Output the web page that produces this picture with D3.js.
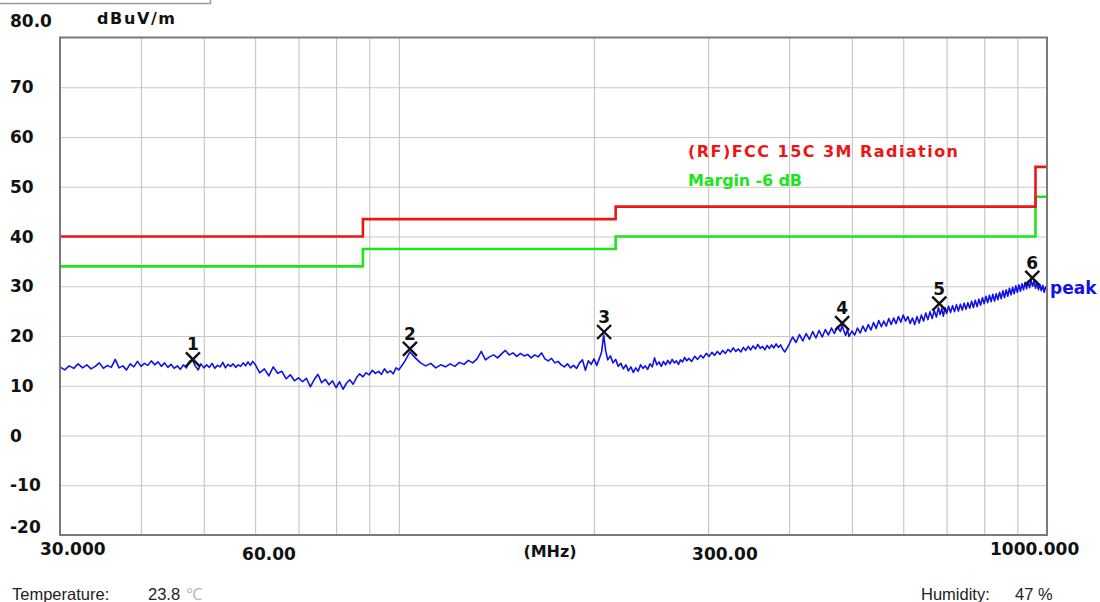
<!DOCTYPE html>
<html>
<head>
<meta charset="utf-8">
<script src="https://cdn.jsdelivr.net/npm/d3@7"></script>
<style>
  body { margin: 0; background: #ffffff; }
  svg { display: block; }
</style>
</head>
<body>
<svg id="chart" width="1100" height="602"></svg>
<script>
/***************************  Data ***************************/
var yTicks = [80, 70, 60, 50, 40, 30, 20, 10, 0, -10, -20];
var yTickText = ["80.0", "70", "60", "50", "40", "30", "20", "10", "0", "-10", "-20"];
var xGridFreqs = [40, 50, 60, 70, 80, 90, 100, 200, 300, 400, 500, 600, 700, 800, 900];
var xTickFreqs = [30, 60, 300, 1000];
var xTickText = ["30.000", "60.00", "300.00", "1000.000"];

// FCC 15C 3M limit (step after each frequency) and the -6 dB margin
var limitFreqs = [30, 88, 216, 960, 1000];
var limitLevels = [40, 43.5, 46, 54, 54];
var marginLevels = [34, 37.5, 40, 48, 48];

// peak trace, [MHz, dBuV/m]
var traceLow = [
 [30,13.8],[30.5,13.2],[31,14.0],[31.5,13.5],[32,14.4],[32.5,13.6],[33,14.2],[33.5,13.4],[34,13.9],[34.5,14.6],
 [35,13.5],[35.5,14.1],[36,13.7],[36.5,15.3],[37,13.6],[37.5,14.0],[38,13.2],[38.5,14.4],[39,13.8],[39.5,14.9],
 [40,13.9],[40.5,14.5],[41,14.1],[41.5,15.0],[42,14.2],[42.5,14.8],[43,13.9],[43.5,14.6],[44,13.7],[44.5,14.3],
 [45,13.5],[45.5,14.0],[46,13.3],[46.5,14.2],[47,13.6],[47.5,14.9],[48,15.3],[48.5,14.0],[49,13.2],[49.5,14.4],
 [50,13.6],[50.5,14.2],[51,13.7],[51.5,14.5],[52,13.5],[52.5,14.1],[53,13.8],[53.5,14.7],[54,13.6],[54.5,14.3],
 [55,13.9],[55.5,14.4],[56,13.7],[56.5,14.2],[57,13.9],[57.5,14.6],[58,14.0],[58.5,14.8],[59,14.1],[59.5,14.9],
 [60,14.3],[61,12.6],[62,13.4],[63,12.0],[64,13.8],[65,12.5],[66,12.9],[67,11.4],[68,12.2],[69,11.0],
 [70,11.6],[71,10.8],[72,11.5],[73,9.8],[74,11.2],[75,12.3],[76,10.6],[77,11.3],[78,10.2],[79,11.0],
 [80,9.6],[81,10.8],[82,9.3],[83,10.5],[84,11.2],[85,10.3],[86,11.6],[87,12.4],[88,11.8],[89,12.6],
 [90,12.2],[91,13.1],[92,12.5],[93,12.9],[94,12.3],[95,13.4],[96,12.6],[97,13.0],[98,12.4],[99,13.6]
];
var traceMid = [
 [100,13.2],[102,14.8],[104,16.8],[106,15.6],[108,14.6],[110,14.0],[112,14.5],[114,13.6],[116,14.2],[118,13.8],
 [120,14.4],[122,13.9],[124,14.7],[126,14.3],[128,15.1],[130,14.6],[132,15.4],[134,16.9],[136,15.2],[138,15.8],
 [140,16.2],[142,15.6],[144,16.4],[146,17.1],[148,16.2],[150,16.6],[152,15.9],[154,16.5],[156,16.0],[158,16.3],
 [160,15.6],[162,16.2],[164,15.8],[166,16.6],[168,15.4],[170,15.0],[172,15.5],[174,14.6],[176,14.9],[178,14.2],
 [180,13.8],[182,14.4],[184,13.6],[186,14.1],[188,13.5],[190,14.6],[192,15.2],[194,13.1],[196,15.0],[198,14.3],
 [200,15.4],[202,14.1],[204,15.6],[205.5,16.8],[207,20.2],[208.5,17.0],[210,15.2],[212,16.0],[214,14.6],[216,15.3],
 [218,13.9],[220,14.5],[222,13.4],[224,14.2],[226,13.0],[228,13.8],[230,12.7],[232,13.6],[234,12.9],[236,14.2],
 [238,13.5],[240,14.0],[242,13.3],[244,14.4],[246,13.8],[248,15.6],[250,14.2],[252,14.8],[254,13.9],[256,14.9],
 [258,14.2],[260,15.1],[262,14.4],[264,15.3],[266,14.6],[268,15.0],[270,14.3],[272,15.2],[274,14.8],[276,15.7],
 [278,15.0],[280,15.5],[283,14.9],[286,15.9],[289,15.3],[292,16.1],[295,15.6],[298,16.5],[301,15.9],[304,16.7],
 [307,16.1],[310,16.9],[313,16.3],[316,17.1],[319,16.5],[322,17.3],[325,16.8],[328,17.6],[331,16.9],[334,17.4],
 [337,16.8],[340,17.7],[343,17.1],[346,17.9],[349,17.2],[352,18.0],[355,17.4],[358,18.3],[361,17.5],[364,17.9],
 [367,17.2],[370,18.1],[373,17.5],[376,18.2],[379,17.6],[382,18.4],[385,17.7],[388,18.2],[391,17.4],[394,16.8],
 [397,17.5]
];
var traceHigh = [
 [400,18.3],[405,19.8],[410,18.7],[415,20.3],[420,19.0],[425,20.5],[430,19.3],[435,20.9],[440,19.6],[445,21.1],
 [450,19.8],[455,21.3],[460,20.2],[465,21.6],[470,20.5],[475,21.9],[480,20.9],[483,22.1],[486,21.0],[489,20.1],
 [492,21.2],[495,19.9],[500,21.0],[505,20.2],[510,21.6],[515,20.6],[520,22.0],[525,20.9],[530,22.3],[535,21.2],
 [540,22.7],[545,21.5],[550,23.1],[555,21.9],[560,23.0],[565,22.0],[570,23.5],[575,22.3],[580,23.6],[585,22.5],
 [590,23.9],[595,22.8],[600,24.2],[605,23.0],[610,23.9],[615,22.5],[620,23.6],[625,22.3],[630,23.9],[635,22.6],
 [640,24.2],[645,23.0],[650,24.6],[655,23.3],[660,24.9],[665,23.5],[670,25.1],[675,23.8],[680,25.7],[684,24.3],
 [688,25.5],[692,24.0],[696,25.7],[700,24.5],[705,26.0],[710,24.7],[715,26.1],[720,24.9],[725,26.3],[730,25.0],
 [735,26.4],[740,25.2],[745,26.6],[750,25.4],[755,26.7],[760,25.6],[765,27.0],[770,25.7],[775,27.2],[780,25.9],
 [785,27.4],[790,26.2],[795,27.7],[800,26.5],[805,28.0],[810,26.7],[815,28.2],[820,26.9],[825,28.4],[830,27.0],
 [835,28.5],[840,27.3],[845,28.8],[850,27.5],[855,29.1],[860,27.7],[865,29.3],[870,28.0],[875,29.6],[880,28.3],
 [885,29.8],[890,28.5],[895,30.1],[900,28.8],[905,30.3],[910,29.0],[915,30.5],[920,29.3],[925,30.8],[930,29.5],
 [935,30.9],[940,29.7],[945,31.2],[950,30.0],[955,31.0],[960,29.6],[965,30.7],[970,29.3],[975,30.4],[980,29.1],
 [985,30.2],[990,28.8],[995,29.9],[1000,29.2]
];

var markerIds = ["1", "2", "3", "4", "5", "6"];
var markerFreqs = [48.1, 104.0, 207.3, 483.0, 682.0, 949.0];
var markerLevels = [15.3, 17.4, 20.8, 22.6, 26.5, 31.7];

/***************************  Chart ***************************/
var svg = d3.select("#chart");
var plotLeft = 60, plotRight = 1047, plotTop = 37.5, plotBottom = 535;

var x = d3.scaleLog().domain([30, 1000]).range([plotLeft, plotRight]);
var y = d3.scaleLinear().domain([-20, 80]).range([plotBottom, plotTop]);

// window edge left over from the screenshot
svg.append("path")
    .attr("d", "M0,3.5H210.5V0")
    .attr("fill", "none")
    .attr("stroke", "#9a9a9a")
    .attr("stroke-width", 1.5);

// grid
var grid = svg.append("g").attr("id", "grid");
grid.append("g")
    .attr("transform", "translate(0," + plotBottom + ")")
    .call(d3.axisBottom(x).tickValues(xGridFreqs).tickSize(-(plotBottom - plotTop)).tickFormat(""));
grid.append("g")
    .attr("transform", "translate(" + plotLeft + ",0)")
    .call(d3.axisLeft(y).tickValues(yTicks.slice(1, -1)).tickSize(-(plotRight - plotLeft)).tickFormat(""));
grid.selectAll(".domain").remove();
grid.selectAll("text").remove();
grid.selectAll("line").attr("stroke", "#c9c9c9").attr("stroke-width", 1.2);

// y labels
svg.append("g").selectAll("text")
    .data(yTicks)
    .enter()
    .append("text")
    .attr("x", 10)
    .attr("y", function(d, i){
        if (i == 0) return 27;
        if (i == yTicks.length - 1) return 533;
        return y(d) + 6;
    })
    .text(function(d, i){ return yTickText[i]; })
    .attr("font-family", "DejaVu Sans")
    .attr("font-weight", "bold")
    .attr("font-size", "17px")
    .attr("fill", "#111");

svg.append("text")
    .attr("x", 97).attr("y", 24)
    .text("dBuV/m")
    .attr("font-family", "DejaVu Sans")
    .attr("font-weight", "bold")
    .attr("font-size", "16px")
    .attr("textLength", 78)
    .attr("fill", "#111");

// x labels
var xLabelDx = [-20, -13, -16, -57];
var xLabelY = [555, 560, 560, 555];
svg.append("g").selectAll("text")
    .data(xTickFreqs)
    .enter()
    .append("text")
    .attr("x", function(d, i){ return x(d) + xLabelDx[i]; })
    .attr("y", function(d, i){ return xLabelY[i]; })
    .text(function(d, i){ return xTickText[i]; })
    .attr("font-family", "DejaVu Sans")
    .attr("font-weight", "bold")
    .attr("font-size", "17px")
    .attr("fill", "#111");

svg.append("text")
    .attr("x", 550).attr("y", 557)
    .attr("text-anchor", "middle")
    .text("(MHz)")
    .attr("font-family", "DejaVu Sans")
    .attr("font-weight", "bold")
    .attr("font-size", "16px")
    .attr("fill", "#111");

// limit and margin lines
var stepLine = d3.line()
    .x(function(d){ return x(d[0]); })
    .y(function(d){ return y(d[1]); })
    .curve(d3.curveStepAfter);

svg.append("path")
    .datum(limitFreqs.map(function(f, i){ return [f, marginLevels[i]]; }))
    .attr("d", stepLine)
    .attr("fill", "none")
    .attr("stroke", "#1ee41e")
    .attr("stroke-width", 2.6);

svg.append("path")
    .datum(limitFreqs.map(function(f, i){ return [f, limitLevels[i]]; }))
    .attr("d", stepLine)
    .attr("fill", "none")
    .attr("stroke", "#ee1515")
    .attr("stroke-width", 2.6);

// trace
var traceLine = d3.line()
    .x(function(d){ return x(d[0]); })
    .y(function(d){ return y(d[1]); });

svg.append("path")
    .datum(traceLow.concat(traceMid, traceHigh))
    .attr("d", traceLine)
    .attr("fill", "none")
    .attr("stroke", "#1212e6")
    .attr("stroke-width", 1.6)
    .attr("stroke-linejoin", "round");

svg.append("text")
    .attr("x", 1050).attr("y", 294)
    .text("peak")
    .attr("font-family", "DejaVu Sans")
    .attr("font-weight", "bold")
    .attr("font-size", "17px")
    .attr("fill", "#1212e6");

// plot frame
svg.append("rect")
    .attr("x", plotLeft).attr("y", plotTop)
    .attr("width", plotRight - plotLeft).attr("height", plotBottom - plotTop)
    .attr("fill", "none")
    .attr("stroke", "#7a7a7a")
    .attr("stroke-width", 2);

// markers
var markers = svg.append("g").attr("id", "markers");
var mk = markers.selectAll("g")
    .data(markerIds)
    .enter()
    .append("g")
    .attr("transform", function(d, i){
        return "translate(" + x(markerFreqs[i]) + "," + y(markerLevels[i]) + ")";
    });
mk.append("path")
    .attr("d", "M-7,-7L7,7M7,-7L-7,7")
    .attr("stroke", "#111")
    .attr("stroke-width", 2.4);
mk.append("text")
    .attr("y", -9)
    .attr("text-anchor", "middle")
    .text(function(d){ return d; })
    .attr("font-family", "DejaVu Sans")
    .attr("font-weight", "bold")
    .attr("font-size", "17px")
    .attr("fill", "#111");

// legend
svg.append("text")
    .attr("x", 688).attr("y", 157)
    .text("(RF)FCC 15C 3M Radiation")
    .attr("font-family", "DejaVu Sans")
    .attr("font-weight", "bold")
    .attr("font-size", "16px")
    .attr("textLength", 270)
    .attr("fill", "#ee1515");
svg.append("text")
    .attr("x", 688).attr("y", 186)
    .text("Margin -6 dB")
    .attr("font-family", "DejaVu Sans")
    .attr("font-weight", "bold")
    .attr("font-size", "16px")
    .attr("textLength", 114)
    .attr("fill", "#1ee41e");

// footer
var foot = svg.append("g")
    .attr("font-family", "Liberation Sans, Arial")
    .attr("font-size", "16.5px")
    .attr("fill", "#222");
foot.append("text").attr("x", 12).attr("y", 600).text("Temperature:");
foot.append("text").attr("x", 148).attr("y", 600).text("23.8");
foot.append("text").attr("x", 186).attr("y", 600).text("\u2103").attr("fill", "#bbbbbb");
foot.append("text").attr("x", 921).attr("y", 600).text("Humidity:");
foot.append("text").attr("x", 1015).attr("y", 600).text("47 %");
</script>
</body>
</html>
